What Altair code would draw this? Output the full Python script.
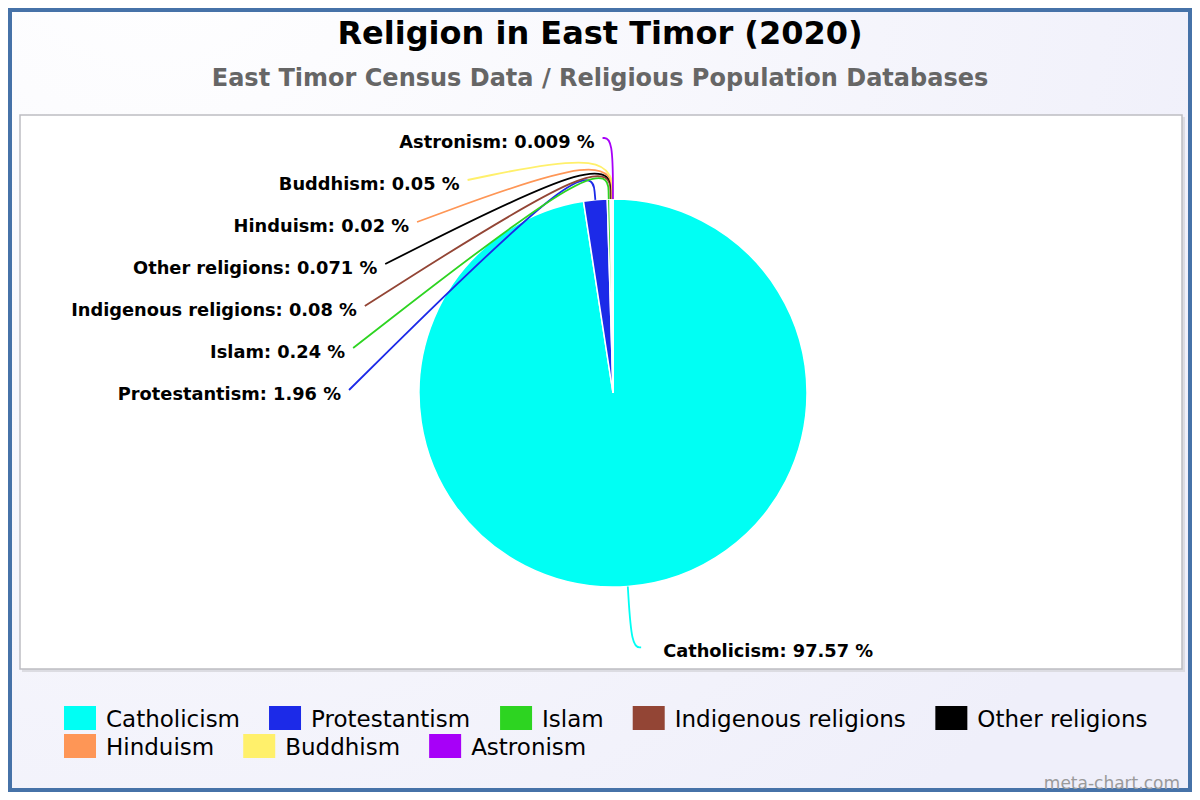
import math
import altair as alt
import pandas as pd

# ---------------- data ----------------
categories = ["Catholicism", "Protestantism", "Islam", "Indigenous religions",
              "Other religions", "Hinduism", "Buddhism", "Astronism"]
percentages = [97.57, 1.96, 0.24, 0.08, 0.071, 0.02, 0.05, 0.009]
percent_text = ["97.57", "1.96", "0.24", "0.08", "0.071", "0.02", "0.05", "0.009"]
colors = ["#00fff4", "#1c2ae8", "#2dd421", "#934535", "#000000",
          "#fe9656", "#fff06b", "#a700f8"]

TITLE = "Religion in East Timor (2020)"
SUBTITLE = "East Timor Census Data / Religious Population Databases"
CREDIT = "meta-chart.com"

# ---------------- layout ----------------
W, H = 1184, 784
OFF = 8                      # page margin
CX, CY = 613 - OFF, 393 - OFF
R = 194                      # pie radius
R_BEND = 243                 # radius of connector bend point
ELL_A, ELL_B = 264, 255.2    # label ellipse
ROW = 42                     # label row spacing

df = pd.DataFrame({
    "category": categories,
    "value": percentages,
    "order": list(range(len(categories))),
})

total = sum(percentages)
mids = []
cum = 0.0
for p in percentages:
    start = cum / total * 2 * math.pi
    cum += p
    end = cum / total * 2 * math.pi
    mids.append((start + end) / 2)

left_idx = sorted([i for i, m in enumerate(mids) if m > math.pi], key=lambda i: mids[i])

label_rows = []
line_rows = []
for i in range(len(categories)):
    m = mids[i]
    s, c = math.sin(m), math.cos(m)
    p0 = (CX + R * s, CY - R * c)
    p1 = [CX + R_BEND * s, CY - R_BEND * c]
    if i in left_idx:
        k = left_idx.index(i)
        ly = CY - ROW * k
        p2y = ly - 3
        t = max(0.0, 1 - ((p2y - CY) / ELL_B) ** 2)
        p2 = (CX - ELL_A * math.sqrt(t), p2y)
        lx = p2[0] - 8
        side = "left"
    else:
        p2 = (CX + ELL_A * s + 8, CY - ELL_B * c)
        ly = p2[1] + 3
        lx = p2[0] + 22
        side = "right"
    if p2[1] < CY:
        p1[1] = min(p1[1], p2[1])
    else:
        p1[1] = max(p1[1], p2[1])
    for step, (x, y) in enumerate([p0, tuple(p1), p2]):
        line_rows.append({"category": categories[i], "step": step, "x": x, "y": y})
    label_rows.append({"category": categories[i], "side": side, "x": lx, "y": ly,
                       "label": f"{categories[i]}: {percent_text[i]} %"})

line_df = pd.DataFrame(line_rows)
label_df = pd.DataFrame(label_rows)

# ---------------- legend layout (flow, wrapping) ----------------
# approximate DejaVu Sans advance widths (units per 2048 em)
ADV = {" ": 651, "A": 1401, "B": 1405, "C": 1430, "H": 1540, "I": 604, "O": 1612,
       "P": 1235, "a": 1255, "b": 1300, "c": 1126, "d": 1300, "e": 1260, "g": 1300,
       "h": 1298, "i": 569, "l": 569, "m": 1995, "n": 1298, "o": 1253, "r": 842,
       "s": 1067, "t": 803, "u": 1298}
LEG_FONT = 23
SW_W, SW_H = 32, 24
LEG_LABEL_GAP = 10
LEG_GAP = 29
LEG_X0, LEG_MAXX = 64 - OFF, 1170 - OFF
LEG_Y0, LEG_ROW = 718 - OFF, 28


def text_width(txt, size):
    return sum(ADV.get(ch, 1200) for ch in txt) / 2048 * size


leg_rows = []
x, row = LEG_X0, 0
for cat in categories:
    w = SW_W + LEG_LABEL_GAP + text_width(cat, LEG_FONT)
    if x + w > LEG_MAXX and x > LEG_X0:
        row += 1
        x = LEG_X0
    yc = LEG_Y0 + row * LEG_ROW
    leg_rows.append({"category": cat, "x0": x, "x1": x + SW_W,
                     "y0": yc - SW_H / 2, "y1": yc + SW_H / 2,
                     "tx": x + SW_W + LEG_LABEL_GAP, "ty": yc})
    x += w + LEG_GAP
leg_df = pd.DataFrame(leg_rows)

one = alt.Data(values=[{}])
color_scale = alt.Scale(domain=categories, range=colors)

# ---------------- decoration ----------------
bg = alt.Chart(one).mark_rect(
    fill=alt.RadialGradient(
        gradient="radial",
        stops=[alt.GradientStop(color="#ffffff", offset=0),
               alt.GradientStop(color="#efeffa", offset=1)],
        x1=0.12, y1=0.08, r1=0, x2=0.12, y2=0.08, r2=1.0),
).encode(x=alt.value(4), x2=alt.value(W - 4), y=alt.value(4), y2=alt.value(H - 4))

BX1, BY1, BX2, BY2 = 20 - OFF, 115 - OFF, 1182 - OFF, 669 - OFF
shadow = alt.Chart(one).mark_rect(fill="#dcdce2").encode(
    x=alt.value(BX1 + 2), x2=alt.value(BX2 + 3), y=alt.value(BY1 + 2), y2=alt.value(BY2 + 3))
box = alt.Chart(one).mark_rect(fill="white", stroke="#bdbdc2", strokeWidth=1.5).encode(
    x=alt.value(BX1), x2=alt.value(BX2), y=alt.value(BY1), y2=alt.value(BY2))

title = alt.Chart(one).mark_text(
    text=TITLE, font="DejaVu Sans", fontWeight="bold", fontSize=32, color="#000000",
    align="center", baseline="middle", dy=1,
).encode(x=alt.value(W / 2), y=alt.value(33 - OFF))

subtitle = alt.Chart(one).mark_text(
    text=SUBTITLE, font="DejaVu Sans", fontWeight="bold", fontSize=24, color="#666666",
    align="center", baseline="middle", dy=2,
).encode(x=alt.value(W / 2), y=alt.value(77 - OFF))

credit = alt.Chart(one).mark_text(
    text=CREDIT, font="DejaVu Sans", fontSize=17, color="#9a9a9a",
    align="right", baseline="middle", dy=1,
).encode(x=alt.value(1180 - OFF), y=alt.value(783 - OFF))

# ---------------- pie ----------------
pie = alt.Chart(df).mark_arc(outerRadius=R, stroke="white", strokeWidth=1.5).encode(
    theta=alt.Theta("value:Q", stack=True),
    order=alt.Order("order:Q"),
    color=alt.Color("category:N", scale=color_scale, sort=categories, legend=None),
    x=alt.value(CX), y=alt.value(CY),
)

lines = alt.Chart(line_df).mark_line(interpolate="basis", strokeWidth=1.8).encode(
    x=alt.X("x:Q", scale=None, axis=None),
    y=alt.Y("y:Q", scale=None, axis=None),
    stroke=alt.Stroke("category:N", scale=alt.Scale(domain=categories, range=colors), legend=None),
    order=alt.Order("step:Q"),
)

label_style = dict(font="DejaVu Sans", fontWeight="bold", fontSize=17.8, color="#000000",
                   baseline="middle", dy=2)
labels_left = alt.Chart(label_df[label_df.side == "left"]).mark_text(
    align="right", **label_style).encode(
    x=alt.X("x:Q", scale=None, axis=None), y=alt.Y("y:Q", scale=None, axis=None),
    text="label:N")
labels_right = alt.Chart(label_df[label_df.side == "right"]).mark_text(
    align="left", **label_style).encode(
    x=alt.X("x:Q", scale=None, axis=None), y=alt.Y("y:Q", scale=None, axis=None),
    text="label:N")

# ---------------- legend ----------------
leg_swatch = alt.Chart(leg_df).mark_rect().encode(
    x=alt.X("x0:Q", scale=None, axis=None), x2="x1:Q",
    y=alt.Y("y0:Q", scale=None, axis=None), y2="y1:Q",
    color=alt.Color("category:N", scale=color_scale, legend=None),
)
leg_text = alt.Chart(leg_df).mark_text(
    font="DejaVu Sans", fontSize=LEG_FONT, color="#000000", align="left",
    baseline="middle", dy=2,
).encode(
    x=alt.X("tx:Q", scale=None, axis=None), y=alt.Y("ty:Q", scale=None, axis=None),
    text="category:N",
)

chart = alt.layer(
    bg, shadow, box, title, subtitle, credit, pie, lines, labels_left, labels_right,
    leg_swatch, leg_text,
).properties(
    width=W, height=H, padding=0,
    autosize=alt.AutoSizeParams(type="none"),
    background="#4672a8",
).configure_view(stroke=None)

chart.save("out.html", embed_options={"renderer": "svg", "actions": False})
